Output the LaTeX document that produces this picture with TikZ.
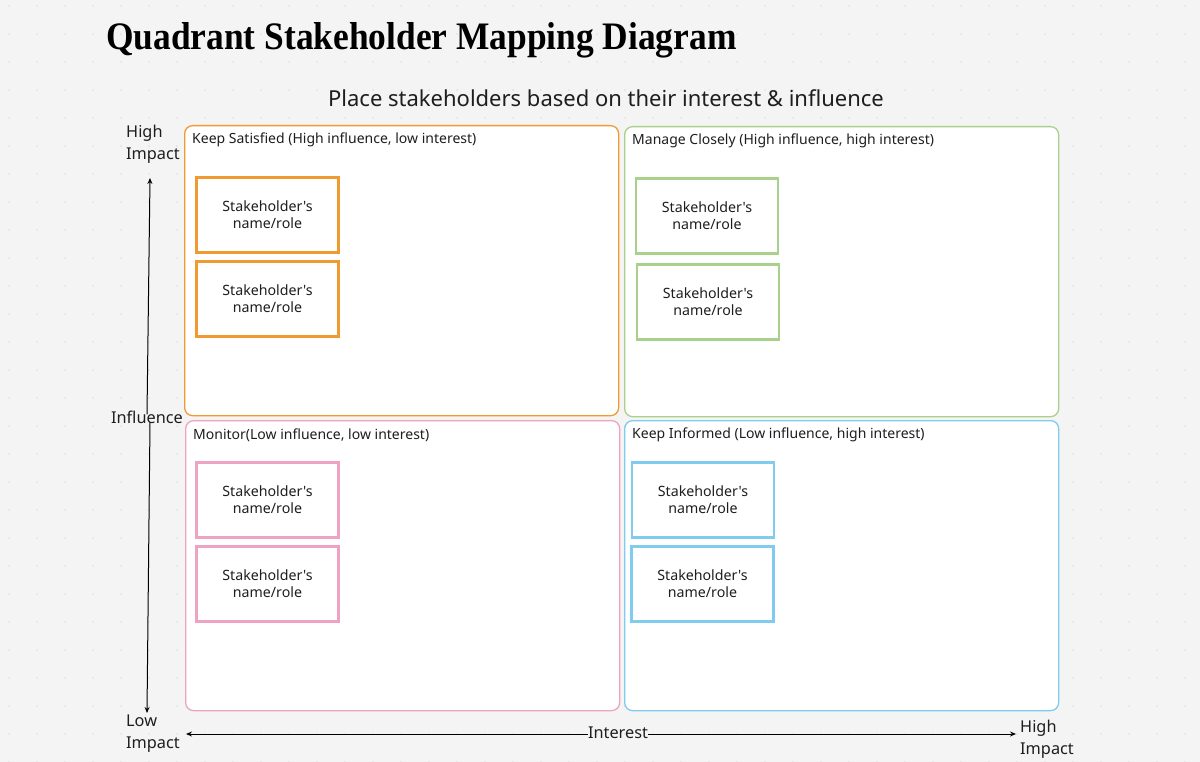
\documentclass[tikz,border=0pt]{standalone}
\usepackage{fontspec}
\newfontfamily\bodyfont{Noto Sans}
\newfontfamily\titlefont{Liberation Serif}
\usetikzlibrary{arrows.meta}
\definecolor{bgc}{HTML}{F4F4F4}
\definecolor{dotc}{HTML}{DCDCDC}
\definecolor{orangeQ}{HTML}{F09A32}
\definecolor{greenQ}{HTML}{A9D18C}
\definecolor{pinkQ}{HTML}{EFA3C2}
\definecolor{blueQ}{HTML}{80CCEE}
\definecolor{txt}{HTML}{1E1E1E}
\tikzset{
  quad/.style={draw, line width=1.3pt, fill=white, rounded corners=8pt,
    minimum width=434pt, minimum height=290pt, anchor=north west, inner sep=0pt},
  hdr/.style={anchor=west, text=txt, inner sep=0pt, font=\bodyfont\fontsize{14}{16}\selectfont},
  sbox/.style={draw, line width=2.6pt, fill=white, minimum width=142pt, minimum height=75pt,
    align=center, text=txt, inner sep=0pt, font=\bodyfont\fontsize{14.2}{17}\selectfont},
  axl/.style={text=txt, inner sep=0pt, font=\bodyfont\fontsize{16.3}{21.5}\selectfont},
  ax/.style={line width=1pt, draw=black, -{Stealth[length=6pt,width=5pt]}},
}
\begin{document}
\begin{tikzpicture}[x=1pt,y=-1pt]
\fill[bgc] (0,0) rectangle (1200,762);
\useasboundingbox (0,0) rectangle (1200,762);
\foreach \i in {0,...,42} {\foreach \j in {0,...,27} {\fill[dotc] (9+28*\i,6+28*\j) circle (0.8);}}

\node[anchor=west, inner sep=0pt, text=black, font=\titlefont\bfseries\fontsize{35.4}{40}\selectfont] (title) at (106,40) {\scalebox{1}[1.1]{Quadrant Stakeholder Mapping Diagram}};
\node[text=txt, inner sep=0pt, font=\bodyfont\fontsize{22}{26}\selectfont] (sub) at (606,98) {Place stakeholders based on their interest \& influence};

% quadrants
\node[quad, draw=orangeQ] (q1) at (184,125) {};
\node[quad, draw=greenQ] (q2) at (624,126) {};
\node[quad, draw=pinkQ] (q3) at (185,420) {};
\node[quad, draw=blueQ] (q4) at (624,420) {};

\node[hdr] (h1) at (192,140) {Keep Satisfied (High influence, low interest)};
\node[hdr] (h2) at (632,141) {Manage Closely (High influence, high interest)};
\node[hdr] (h3) at (193,435) {Monitor(Low influence, low interest)};
\node[hdr] (h4) at (632,435) {Keep Informed (Low influence, high interest)};

% stakeholder boxes
\node[sbox, draw=orangeQ] (s1a) at (267.5,215) {Stakeholder's\\name/role};
\node[sbox, draw=orangeQ] (s1b) at (267.5,299) {Stakeholder's\\name/role};
\node[sbox, draw=greenQ] (s2a) at (707,216) {Stakeholder's\\name/role};
\node[sbox, draw=greenQ] (s2b) at (708,302) {Stakeholder's\\name/role};
\node[sbox, draw=pinkQ] (s3a) at (267.5,500) {Stakeholder's\\name/role};
\node[sbox, draw=pinkQ] (s3b) at (267.5,584) {Stakeholder's\\name/role};
\node[sbox, draw=blueQ] (s4a) at (703,500) {Stakeholder's\\name/role};
\node[sbox, draw=blueQ] (s4b) at (702.5,584) {Stakeholder's\\name/role};

% axes
\node[axl, align=left, anchor=north west] (hiL) at (126,125) {High\\Impact};
\node[axl, inner sep=2pt] (infl) at (147,417) {Influence};
\coordinate (vtop) at (150,178);
\coordinate (vbot) at (147,713);
\draw[ax] ([yshift=-6pt]infl.north) -- (vtop);
\draw[ax] ([xshift=3pt,yshift=3pt]infl.south) -- (vbot);

\node[axl, align=left, anchor=north west] (loL) at (126,715) {Low\\Impact};
\node[axl, align=left, anchor=north west] (hiR) at (1020,720) {High\\Impact};
\node[axl] (intr) at (618,733) {Interest};
\coordinate (hl) at (186,734);
\coordinate (hr) at (1016,734);
\draw[ax] (intr.west |- hl) -- (hl);
\draw[ax] (intr.east |- hr) -- (hr);
\end{tikzpicture}
\end{document}
